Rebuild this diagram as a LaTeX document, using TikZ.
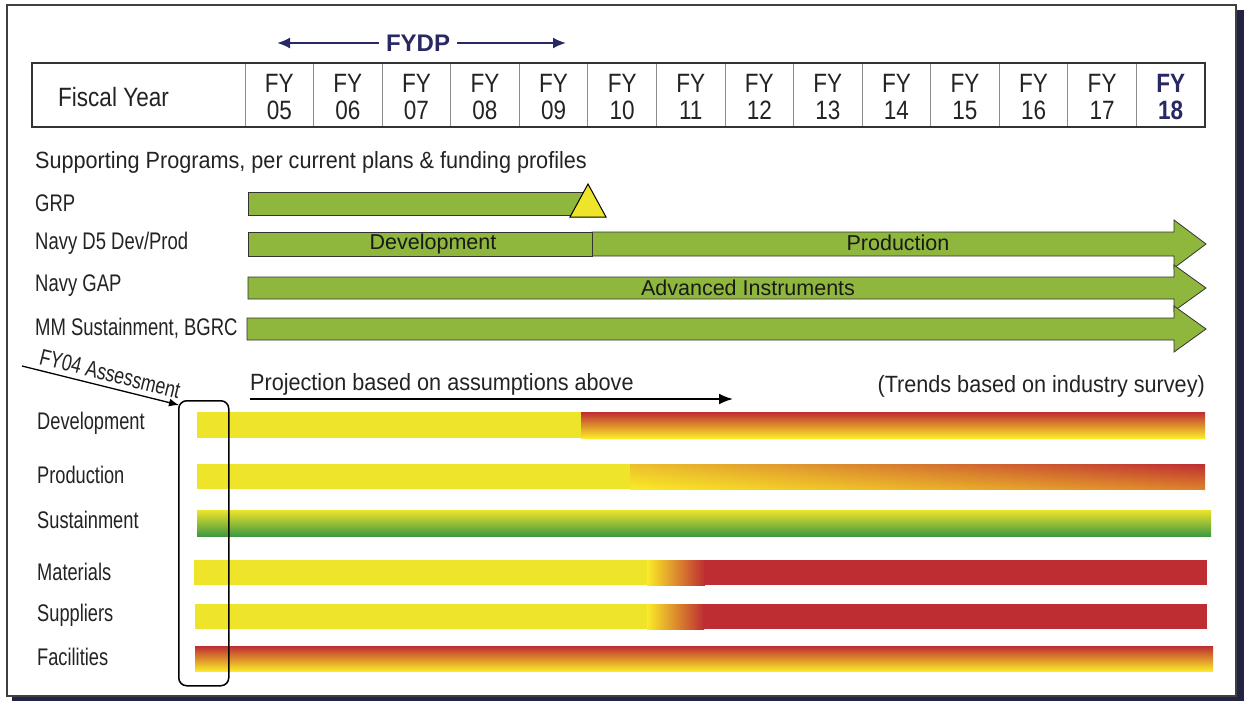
\documentclass[tikz,border=0pt]{standalone}
\usepackage{fontspec}
\setmainfont{Liberation Sans}
\newfontfamily\tblfont[FakeStretch=0.85]{Liberation Sans}
\newfontfamily\hdrfont[FakeStretch=0.92]{Liberation Sans}
\newfontfamily\lblfont[FakeStretch=0.77]{Liberation Sans}
\newfontfamily\botfont[FakeStretch=0.76]{Liberation Sans}
\usetikzlibrary{arrows.meta,shadings}
\definecolor{navy}{RGB}{40,40,100}
\definecolor{shadowc}{RGB}{35,35,70}
\definecolor{barg}{RGB}{143,183,62}
\definecolor{bary}{RGB}{238,228,42}
\definecolor{barybright}{RGB}{250,234,40}
\definecolor{barr}{RGB}{190,45,50}
\definecolor{barorange}{RGB}{228,150,42}
\definecolor{barlight}{RGB}{236,192,44}
\definecolor{bargreen}{RGB}{62,152,66}
\definecolor{txt}{RGB}{35,35,35}
\begin{document}
\begin{tikzpicture}[x=1pt,y=-1pt,
  tbl/.style={font=\tblfont\fontsize{26.5}{27}\selectfont, text=txt, align=center, inner sep=0},
  hdr/.style={font=\hdrfont\fontsize{23.5}{25}\selectfont, text=txt, inner sep=0},
  lbl/.style={font=\lblfont\fontsize{24}{25}\selectfont, text=txt, inner sep=0, anchor=west},
  bot/.style={font=\botfont\fontsize{24}{25}\selectfont, text=txt, inner sep=0, anchor=west},
  bartext/.style={font=\fontsize{21.5}{23}\selectfont, text=black!90, inner sep=0},
  gbar/.style={fill=barg, draw=black!80, line width=0.8},
  navyarrow/.style={navy, line width=2, -{Latex[length=13,width=11]}},
  blackarrow/.style={black, line width=2, -{Latex[length=14,width=11]}}
]
\useasboundingbox (0,0) rectangle (1244,701);
% frame with shadow
\fill[shadowc] (12,10) rectangle (1244,701);
\draw[line width=1.5, draw=black!75, fill=white] (7,5) rectangle (1236,696);

% table
\foreach \k in {1,...,13} \draw[black!45, line width=0.8] ({245+\k*68.57},63) -- ({245+\k*68.57},127);
\draw[black!45, line width=0.8] (245,63) -- (245,127);
\draw[line width=2.5, black!80] (32,63) rectangle (1205,127);
\node[tbl, anchor=west] (fiscal) at (58,97) {Fiscal Year};
\foreach \yr [count=\i from 0] in {05,06,07,08,09,10,11,12,13,14,15,16,17}
  \node[tbl] (y\yr) at ({245+(\i+0.5)*68.57},97) {FY\\\yr};
\node[tbl, text=navy, font=\tblfont\bfseries\fontsize{26.5}{27}\selectfont] (y18) at ({245+13.5*68.57},97) {FY\\18};

% FYDP
\node[font=\bfseries\fontsize{24}{25}\selectfont, text=navy, inner sep=7] (fydp) at (418,43) {FYDP};
\coordinate (fydpl) at (277,43);
\coordinate (fydpr) at (566,43);
\draw[navyarrow] (fydp.west) -- (fydpl);
\draw[navyarrow] (fydp.east) -- (fydpr);

% supporting programs
\node[hdr, anchor=west] (supp) at (35,162) {Supporting Programs, per current plans \& funding profiles};
\node[lbl] (grp) at (35,203) {GRP};
\node[lbl] (d5) at (35,243) {Navy D5 Dev/Prod};
\node[lbl] (gap) at (35,286) {Navy GAP};
\node[lbl] (mm) at (35,328) {MM Sustainment, BGRC};

\draw[gbar] (248,192) rectangle (590,215);
\draw[fill=bary, draw=black, line width=1] (588,184) -- (606,217) -- (570,217) -- cycle;

\draw[gbar] (592,232) -- (1174,232) -- (1174,220) -- (1206,244) -- (1174,268) -- (1174,256) -- (592,256) -- cycle;
\draw[gbar] (248,232) rectangle (592,256);
\node[bartext] (devt) at (433,244) {Development};
\node[bartext] (prodt) at (898,243) {Production};

\draw[gbar] (248,277) -- (1174,277) -- (1174,265) -- (1206,288) -- (1174,311) -- (1174,299) -- (248,299) -- cycle;
\node[bartext] (advt) at (748,288) {Advanced Instruments};

\draw[gbar] (247,318) -- (1174,318) -- (1174,306) -- (1206,329) -- (1174,352) -- (1174,340) -- (247,340) -- cycle;

% projection
\node[hdr, anchor=south west] (proj) at (250,396) {Projection based on assumptions above};
\coordinate (projend) at (733,399);
\draw[blackarrow] (proj.south west |- projend) -- (projend);
\node[hdr, anchor=east] (trends) at (1205,386) {(Trends based on industry survey)};

% bottom labels
\node[bot] (ldev) at (37,423) {Development};
\node[bot] (lprod) at (37,475) {Production};
\node[bot] (lsus) at (37,520) {Sustainment};
\node[bot] (lmat) at (37,572) {Materials};
\node[bot] (lsup) at (37,615) {Suppliers};
\node[bot] (lfac) at (37,657) {Facilities};

% trend bars
\fill[bary] (197,412) rectangle (582,438);
\shade[top color=barr, middle color=barlight, bottom color=barybright] (581,412) rectangle (1205,438);

\fill[bary] (197,464) rectangle (631,489);
\shade[upper left=barlight, lower left=barybright, upper right=barr, lower right=barorange!80!barr] (630,464) rectangle (1205,489);

\shade[top color=bary, middle color=bary!80!bargreen, bottom color=bargreen] (197,510) rectangle (1211,536);

\fill[bary] (194,560) rectangle (648,585);
\shade[left color=barybright, right color=barr] (647,560) rectangle (705,585);
\fill[barr] (704,560) rectangle (1207,585);

\fill[bary] (195,604) rectangle (648,629);
\shade[left color=barybright, right color=barr] (647,604) rectangle (704,629);
\fill[barr] (703,604) rectangle (1207,629);

\shade[top color=barr, middle color=barorange, bottom color=barybright] (195,646) rectangle (1213,671);

% FY04 assessment box
\node[draw=black, line width=1.5, rounded corners=8, minimum width=50, minimum height=285, anchor=north west, inner sep=0] (box) at (178,400) {};
\coordinate (fyastart) at (22,366);
\draw[black, line width=1.3, -{Latex[length=10,width=8]}] (fyastart) -- ([shift={(1,5)}]box.north west)
  node[pos=0.54, sloped, anchor=south, yshift=5pt, inner sep=0, font=\lblfont\fontsize{23}{24}\selectfont, text=txt] (fya) {FY04 Assessment};
\end{tikzpicture}
\end{document}
